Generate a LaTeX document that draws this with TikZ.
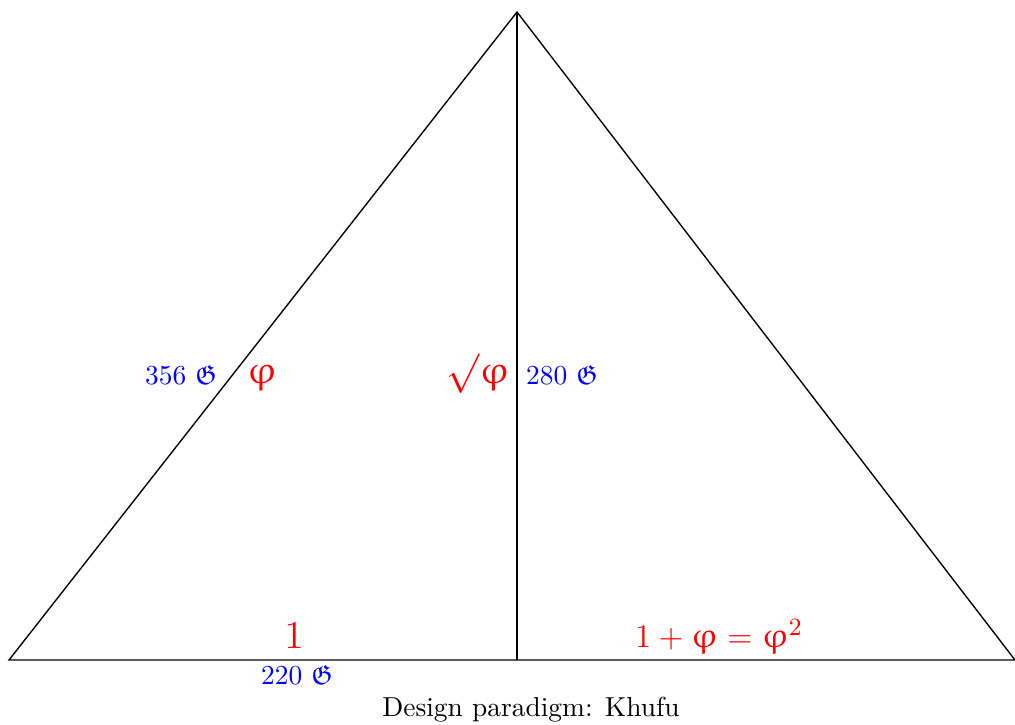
\documentclass[tikz,border=0pt]{standalone}
\usepackage{amssymb}
\usepackage{upgreek}
\begin{document}
\begin{tikzpicture}[x=0.0128cm,y=-0.0128cm,
  edge/.style={draw=black,line width=0.5pt},
  cubit/.style={text=blue,font=\normalsize,inner sep=0pt},
  ratio/.style={text=red,font=\Large,inner sep=0pt},
  caption/.style={text=black,font=\normalsize,inner sep=0pt}]
\useasboundingbox (0,0) rectangle (1015,724);
\coordinate (apex) at (517,12);
\coordinate (bl) at (9,660);
\coordinate (br) at (1015,660);
\coordinate (foot) at (517,660);
\draw[edge] (bl) -- (apex) -- (br) -- cycle;
\draw[edge] (apex) -- (foot);
\node[cubit] (slant) at (181,375) {356 $\mathfrak{G}$};
\node[ratio] (phi) at (262,374) {$\upvarphi$};
\node[ratio] (sqrtphi) at (478,374) {$\surd\upvarphi$};
\node[cubit] (height) at (562,375) {280 $\mathfrak{G}$};
\node[ratio] (one) at (294,636) {$1$};
\node[cubit] (half) at (297,675) {220 $\mathfrak{G}$};
\node[ratio,font=\fontsize{13}{15}\selectfont] (sum) at (719,635) {$1+\upvarphi=\upvarphi^2$};
\node[caption] (cap) at (531,710) {Design paradigm: Khufu};
\end{tikzpicture}
\end{document}
